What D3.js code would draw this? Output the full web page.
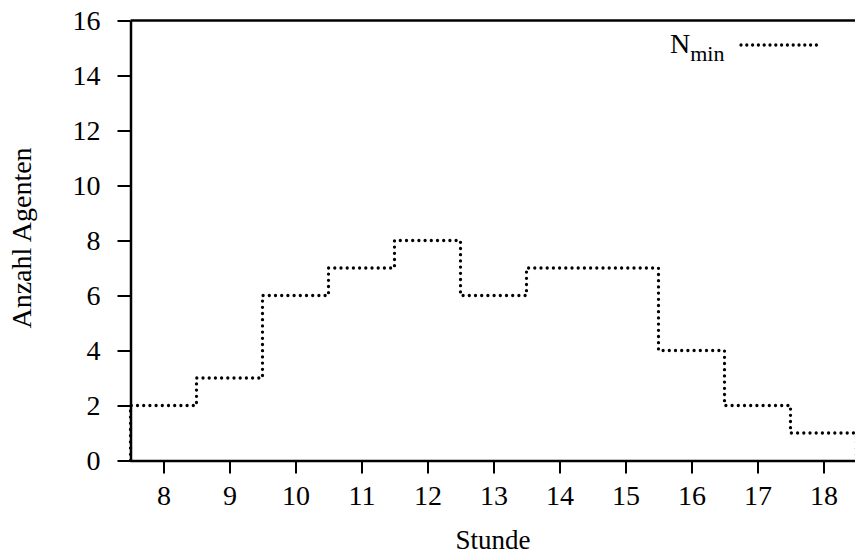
<!DOCTYPE html>
<html>
<head>
<meta charset="utf-8">
<script src="https://cdn.jsdelivr.net/npm/d3@7"></script>
<style>
  body { margin: 0; background: #fff; }
  svg text { font-family: "Liberation Serif", "Times New Roman", serif; fill: #000; }
</style>
</head>
<body>
<div id="chart"></div>
<script>
// hourly minimum number of agents
var hours = [8, 9, 10, 11, 12, 13, 14, 15, 16, 17, 18];
var nMin = [2, 3, 6, 7, 8, 6, 7, 7, 4, 2, 1];
var xTicks = [8, 9, 10, 11, 12, 13, 14, 15, 16, 17, 18];
var yTicks = [0, 2, 4, 6, 8, 10, 12, 14, 16];

var width = 855, height = 556;
var svg = d3.select("#chart").append("svg")
    .attr("width", width)
    .attr("height", height);

var xScale = d3.scaleLinear().domain([7.5, 18.5]).range([130.5, 856.5]);
var yScale = d3.scaleLinear().domain([0, 16]).range([460.5, 20.5]);

// step outline: each hour spans h-0.5 .. h+0.5
var pts = [[7.5, 0]];
hours.forEach(function(h, i) {
    pts.push([h - 0.5, nMin[i]]);
    pts.push([h + 0.5, nMin[i]]);
});
pts.push([18.5, 0]);

var line = d3.line()
    .x(function(d) { return xScale(d[0]); })
    .y(function(d) { return yScale(d[1]); });

svg.append("path")
    .datum(pts)
    .attr("d", line)
    .attr("fill", "none")
    .attr("stroke", "#000")
    .attr("stroke-width", 3.3)
    .attr("stroke-linecap", "round")
    .attr("stroke-dasharray", "0,6.2");

// axes
var xAxis = d3.axisBottom(xScale).tickValues(xTicks).tickSize(13).tickPadding(12).tickSizeOuter(0);
var yAxis = d3.axisLeft(yScale).tickValues(yTicks).tickSize(13).tickPadding(17).tickSizeOuter(0);

var gx = svg.append("g").attr("transform", "translate(0," + yScale(0) + ")").call(xAxis);
var gy = svg.append("g").attr("transform", "translate(" + xScale(7.5) + ",0)").call(yAxis);

[gx, gy].forEach(function(g) {
    g.select(".domain").attr("stroke-width", 2.5);
    g.selectAll(".tick line").attr("stroke-width", 2);
    g.selectAll(".tick text")
        .style("font-family", "'Liberation Serif', 'Times New Roman', serif")
        .style("font-size", "28px");
});
gy.selectAll(".tick text").attr("dy", "0.33em");

// top border
svg.append("line")
    .attr("x1", xScale(7.5)).attr("x2", width)
    .attr("y1", yScale(16)).attr("y2", yScale(16))
    .attr("stroke", "#000").attr("stroke-width", 2.5);

// axis titles
svg.append("text")
    .attr("x", 493).attr("y", 549)
    .attr("text-anchor", "middle")
    .style("font-size", "27px")
    .text("Stunde");

svg.append("text")
    .attr("transform", "translate(31,238) rotate(-90)")
    .attr("text-anchor", "middle")
    .style("font-size", "28px")
    .text("Anzahl Agenten");

// legend
var leg = svg.append("text")
    .attr("x", 670).attr("y", 53)
    .style("font-size", "28px");
leg.append("tspan").text("N");
leg.append("tspan").attr("dy", 8).style("font-size", "22px").text("min");

svg.append("line")
    .attr("x1", 741).attr("x2", 822)
    .attr("y1", 45).attr("y2", 45)
    .attr("stroke", "#000")
    .attr("stroke-width", 3.3)
    .attr("stroke-linecap", "round")
    .attr("stroke-dasharray", "0,5.8");
</script>
</body>
</html>
